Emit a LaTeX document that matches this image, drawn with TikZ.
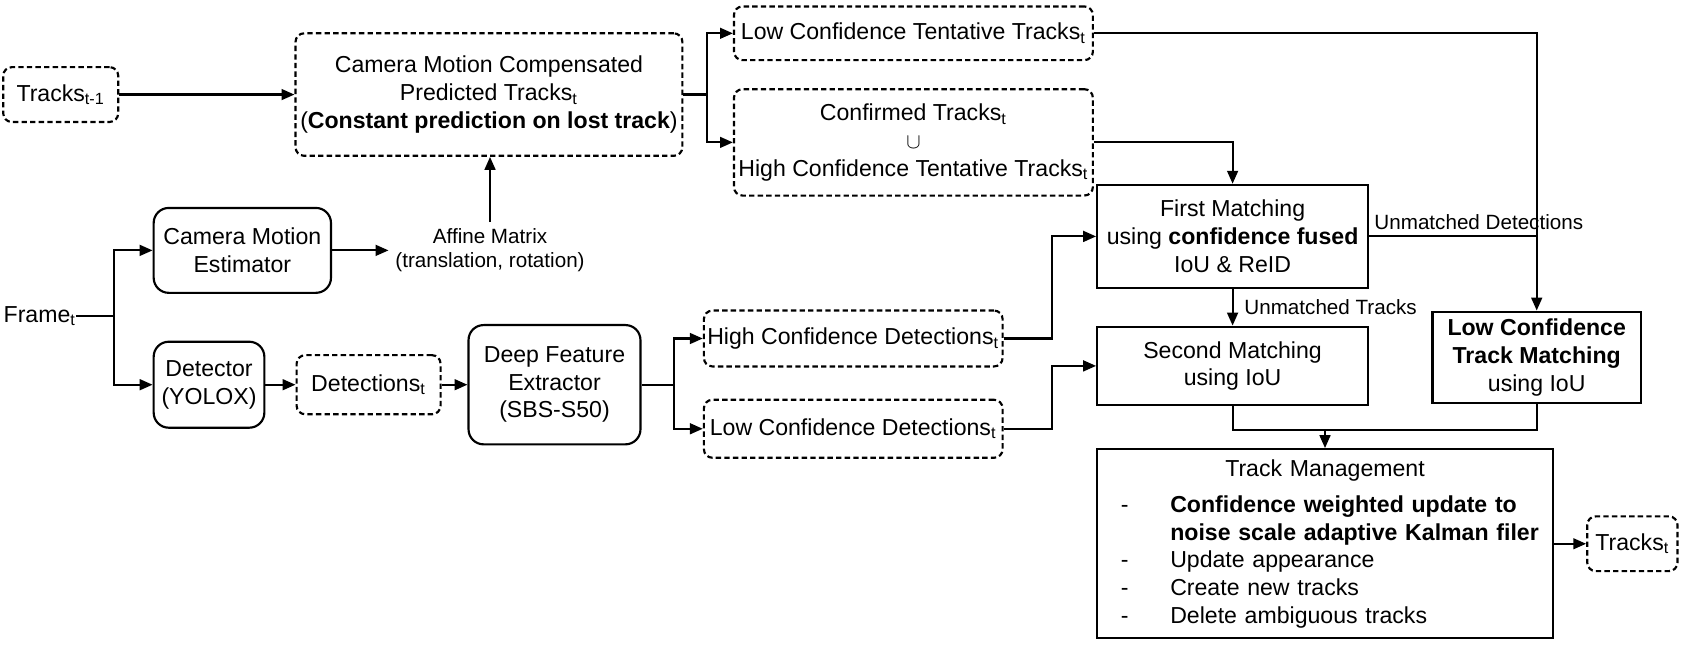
\documentclass[tikz,border=0pt]{standalone}
\usepackage{fontspec}
\setmainfont{Liberation Sans}
\usetikzlibrary{arrows.meta}
\newcommand{\boxfont}{\fontsize{10.75pt}{12.9pt}\selectfont}
\newcommand{\notefont}{\fontsize{9.6pt}{11pt}\selectfont}

\begin{document}
\begin{tikzpicture}[x=0.5pt, y=-0.5pt,
	every node/.style={font=\boxfont, align=center, inner sep=0pt},
	dashbox/.style={draw, line width=1pt, dash pattern=on 2.5pt off 1.5pt, rounded corners=4pt},
	roundbox/.style={draw, line width=1pt, rounded corners=7pt},
	plainbox/.style={draw, line width=1pt},
	conn/.style={line width=1pt},
	arr/.style={conn, -{Triangle[length=6pt,width=5pt]}},
	notetext/.style={font=\notefont}]
		\useasboundingbox (0,0) rectangle (1568,604);
		\node[dashbox, minimum width=53.5pt, minimum height=25.5pt] (tprev) at (56.5,88) {Tracks\textsubscript{t-1}};
		\node[dashbox, minimum width=180pt, minimum height=57pt] (cmc) at (455,88)
			{Camera Motion Compensated\\Predicted Tracks\textsubscript{t}\\(\textbf{Constant prediction on lost track})};
		\node[dashbox, minimum width=167pt, minimum height=25pt] (lctt) at (850,31) {Low Confidence Tentative Tracks\textsubscript{t}};
		\node[dashbox, minimum width=167pt, minimum height=49.5pt] (conf) at (850,132.5)
			{Confirmed Tracks\textsubscript{t}\\{\notefont$\cup$}\\High Confidence Tentative Tracks\textsubscript{t}};
		\node[plainbox, minimum width=126pt, minimum height=48pt] (fm) at (1147,220) {First Matching\\using \textbf{confidence fused}\\IoU \& ReID};
		\node[plainbox, minimum width=126pt, minimum height=36.5pt] (sm) at (1147,340.5) {Second Matching\\using IoU};
		\node[plainbox, minimum width=97pt, minimum height=42.5pt] (lctm) at (1430,332.5) {\textbf{Low Confidence}\\\textbf{Track Matching}\\using IoU};
		\node[plainbox, minimum height=88pt, text width=212pt, align=left] (tm) at (1233,506)
			{\makebox[212pt]{Track Management}\\[4pt]
			\makebox[34pt][l]{\hspace{11pt}-}\textbf{Confidence weighted update to}\\
			\makebox[34pt][l]{}\textbf{noise scale adaptive Kalman filer}\\
			\makebox[34pt][l]{\hspace{11pt}-}Update appearance\\
			\makebox[34pt][l]{\hspace{11pt}-}Create new tracks\\
			\makebox[34pt][l]{\hspace{11pt}-}Delete ambiguous tracks};
		\node[dashbox, minimum width=42pt, minimum height=25.5pt] (tnext) at (1519,506) {Tracks\textsubscript{t}};
		\node[anchor=west] (frame) at (3,294) {Frame\textsubscript{t}};
		\coordinate (fsplit) at (106,294);
		\node[roundbox, minimum width=82.5pt, minimum height=39.5pt] (cme) at (225.5,233) {Camera Motion\\Estimator};
		\node[notetext, inner sep=3pt] (affine) at (456,233) {Affine Matrix\\(translation, rotation)};
		\node[roundbox, minimum width=51.5pt, minimum height=40pt] (det) at (194.5,358) {Detector\\(YOLOX)};
		\node[dashbox, minimum width=67pt, minimum height=27.5pt] (dets) at (343,358) {Detections\textsubscript{t}};
		\node[roundbox, minimum width=80pt, minimum height=55.5pt] (dfe) at (516,358) {Deep Feature\\Extractor\\(SBS-S50)};
		\node[dashbox, minimum width=139pt, minimum height=26pt] (hcd) at (794,315) {High Confidence Detections\textsubscript{t}};
		\node[dashbox, minimum width=139pt, minimum height=27pt] (lcd) at (794,399) {Low Confidence Detections\textsubscript{t}};
		\coordinate (mjoin) at (1233,400);

		\draw[arr] (tprev.east) -- (cmc.west);
		\draw[arr] (affine.north) -- (affine.north |- cmc.south);
		\draw[arr] (cmc.east) -- ++(22,0) coordinate (csplit) |- (lctt.west);
		\draw[arr] (csplit) |- (conf.west);
		\draw[arr] (lctt.east) -| (lctm.north);
		\draw[arr] (conf.east) -| (fm.north);
		\draw[conn] (fm.east) node[notetext, anchor=south west, inner xsep=2pt, inner ysep=2.5pt] (udl) {Unmatched Detections}
			-- (fm.east -| lctm.north);
		\draw[arr] (fm) -- node[notetext, right, inner xsep=5pt] (utl) {Unmatched Tracks} (sm);
		\draw[arr] (hcd.east) -- ++(45,0) |- (fm.west);
		\draw[arr] (lcd.east) -- ++(45,0) |- (sm.west);
		\draw[conn] (sm.south) |- (mjoin) -| (lctm.south);
		\draw[arr] (mjoin) -- (tm.north);
		\draw[arr] (tm.east) -- (tnext.west);
		\draw[conn] (frame.east) -- (fsplit);
		\draw[arr] (fsplit) |- (cme.west);
		\draw[arr] (fsplit) |- (det.west);
		\draw[arr] (cme.east) -- (affine.west);
		\draw[arr] (det.east) -- (dets.west);
		\draw[arr] (dets.east) -- (dfe.west);
		\draw[conn] (dfe.east) -- ++(30,0) coordinate (dsplit);
		\draw[arr] (dsplit) |- (hcd.west);
		\draw[arr] (dsplit) |- (lcd.west);
\end{tikzpicture}
\end{document}
